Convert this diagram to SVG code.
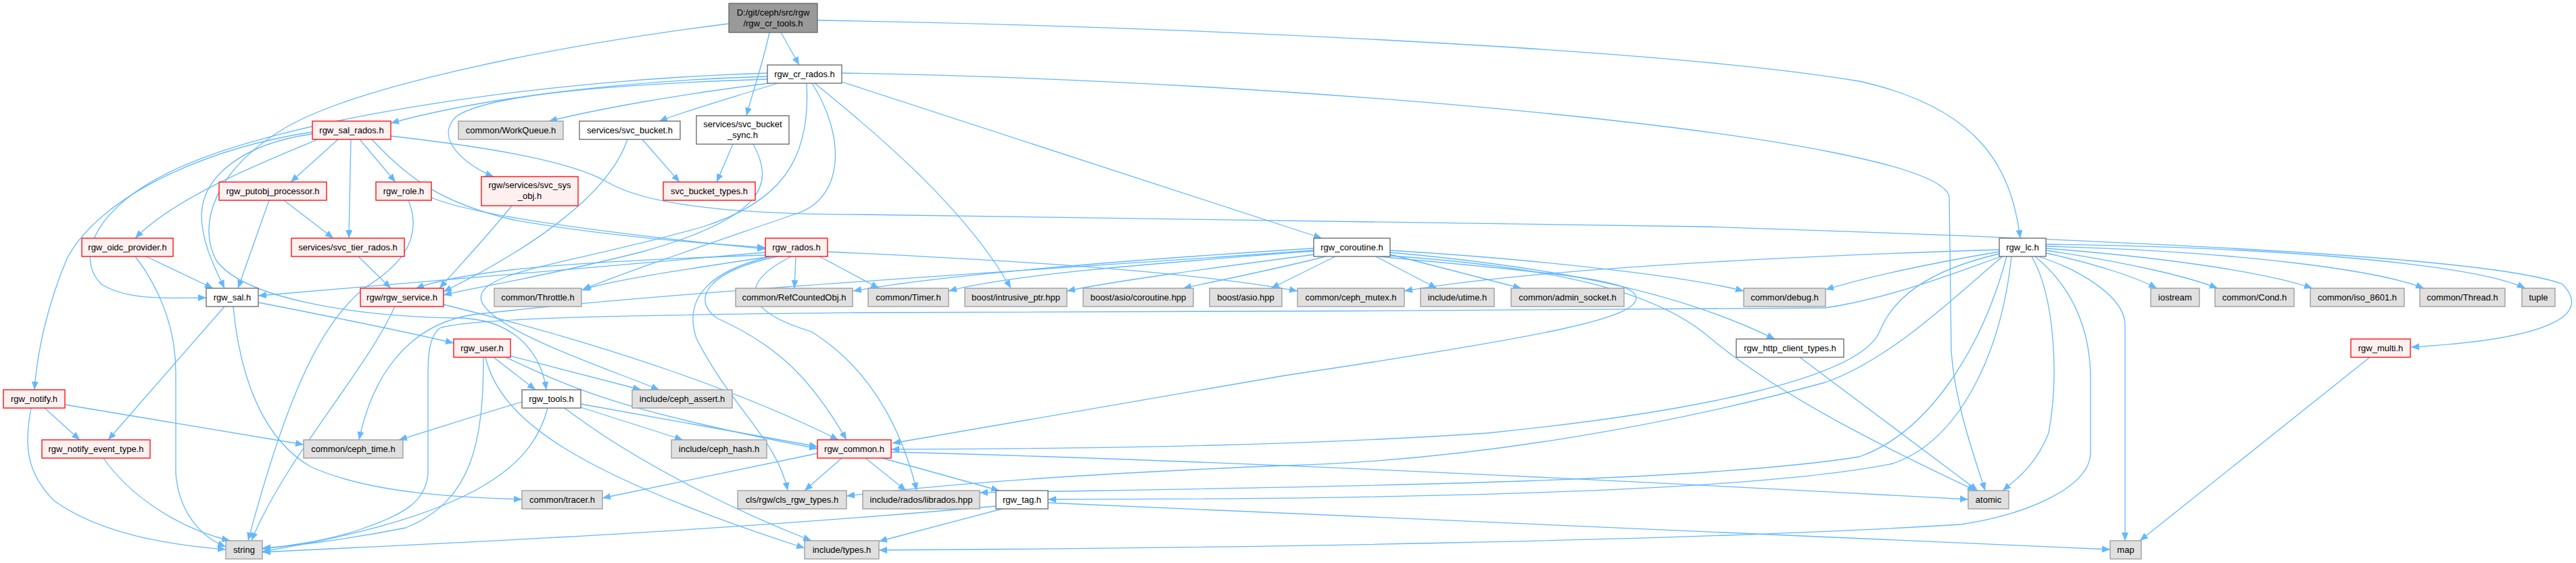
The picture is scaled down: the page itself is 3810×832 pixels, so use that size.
<svg xmlns="http://www.w3.org/2000/svg" width="3810" height="832" viewBox="0 0 3810 832">
<style>
.e{fill:none;stroke:#63B8FF;stroke-width:1.3}
.node rect{stroke-width:1.3}
.main rect{fill:#999999;stroke:#666666}
.white rect{fill:#FFFFFF;stroke:#666666}
.red rect{fill:#FFF0F0;stroke:#FF0000}
.gray rect{fill:#E0E0E0;stroke:#999999}
text{font-family:"Liberation Sans",Arial,sans-serif;font-size:13px;fill:#000;text-anchor:middle}
</style>
<defs>
<marker id="a" markerUnits="userSpaceOnUse" markerWidth="13" markerHeight="11" refX="12" refY="5" orient="auto">
<path d="M0,0 L12,5 L0,10 z" fill="#63B8FF"/>
</marker>
</defs>
<rect width="3810" height="832" fill="#FFFFFF"/>
<g id="edges" marker-end="url(#a)">
<path class="e" marker-end="url(#a)" d="M1155,48 L1182,96"/>
<path class="e" marker-end="url(#a)" d="M1138,48 C1128,95 1112,140 1104,171"/>
<path class="e" marker-end="url(#a)" d="M1209,30 C1700,38 2450,70 2750,120 C2930,160 2975,250 2988,352"/>
<path class="e" marker-end="url(#a)" d="M1078,35 C800,70 520,130 420,190 C320,250 290,330 320,385 C360,440 520,468 680,470 C760,472 800,520 808,576"/>
<path class="e" marker-end="url(#a)" d="M1135,113 C900,120 700,148 578,182"/>
<path class="e" marker-end="url(#a)" d="M1138,123 C1000,140 880,162 812,179"/>
<path class="e" marker-end="url(#a)" d="M1150,123 C1080,145 1010,165 975,179"/>
<path class="e" marker-end="url(#a)" d="M1135,117 C900,125 720,140 675,172 C640,205 690,245 730,261"/>
<path class="e" marker-end="url(#a)" d="M1135,108 C800,118 420,175 260,250 C140,305 110,380 150,420 C190,445 250,440 305,440"/>
<path class="e" marker-end="url(#a)" d="M1245,121 L1955,352"/>
<path class="e" marker-end="url(#a)" d="M1205,123 C1300,200 1430,310 1495,426"/>
<path class="e" marker-end="url(#a)" d="M1245,108 C1900,118 2860,200 2883,290 L2886,520 C2892,600 2922,680 2936,725"/>
<path class="e" marker-end="url(#a)" d="M1193,123 C1200,240 1150,300 1040,335 C850,390 700,400 712,445 C730,490 900,545 975,576"/>
<path class="e" marker-end="url(#a)" d="M1201,123 C1250,200 1250,290 1180,315 C1050,360 930,400 862,428"/>
<path class="e" marker-end="url(#a)" d="M500,206 L430,269"/>
<path class="e" marker-end="url(#a)" d="M519,206 L516,352"/>
<path class="e" marker-end="url(#a)" d="M532,206 L585,269"/>
<path class="e" marker-end="url(#a)" d="M470,206 C400,235 260,290 200,352"/>
<path class="e" marker-end="url(#a)" d="M578,201 C700,215 840,235 900,270 C960,305 1100,317 1270,317 L2520,335 C3300,360 3700,385 3790,420 C3830,460 3790,500 3566,513"/>
<path class="e" marker-end="url(#a)" d="M550,206 C600,260 650,300 760,325 C900,350 1050,360 1132,366"/>
<path class="e" marker-end="url(#a)" d="M462,195 C300,220 150,290 100,380 C70,450 55,520 51,576"/>
<path class="e" marker-end="url(#a)" d="M462,198 C360,212 300,260 298,317 C298,360 320,400 332,426"/>
<path class="e" marker-end="url(#a)" d="M398,296 L352,426"/>
<path class="e" marker-end="url(#a)" d="M420,296 L493,352"/>
<path class="e" marker-end="url(#a)" d="M638,292 C700,318 900,345 1132,368"/>
<path class="e" marker-end="url(#a)" d="M604,296 C630,360 580,400 540,425 C470,480 420,600 367,799"/>
<path class="e" marker-end="url(#a)" d="M757,304 C720,350 680,392 650,426"/>
<path class="e" marker-end="url(#a)" d="M950,206 L1005,269"/>
<path class="e" marker-end="url(#a)" d="M928,206 C900,290 780,370 656,431"/>
<path class="e" marker-end="url(#a)" d="M1084,213 L1060,269"/>
<path class="e" marker-end="url(#a)" d="M1114,213 C1145,270 1135,320 950,372 C800,410 700,425 656,436"/>
<path class="e" marker-end="url(#a)" d="M216,379 L315,426"/>
<path class="e" marker-end="url(#a)" d="M200,379 C232,420 260,480 260,550 L260,700 C265,760 300,795 334,808"/>
<path class="e" marker-end="url(#a)" d="M530,379 L578,426"/>
<path class="e" marker-end="url(#a)" d="M1132,373 C900,392 600,420 382,437"/>
<path class="e" marker-end="url(#a)" d="M1132,377 C900,385 700,395 615,426"/>
<path class="e" marker-end="url(#a)" d="M1140,379 C1000,400 900,415 860,429"/>
<path class="e" marker-end="url(#a)" d="M1177,379 L1175,426"/>
<path class="e" marker-end="url(#a)" d="M1212,379 L1300,426"/>
<path class="e" marker-end="url(#a)" d="M1224,372 C1500,385 1750,400 1919,430"/>
<path class="e" marker-end="url(#a)" d="M1140,379 C1050,400 1010,440 1030,500 C1080,600 1150,650 1165,725"/>
<path class="e" marker-end="url(#a)" d="M1150,379 C1050,400 1020,440 1060,470 C1150,510 1200,560 1252,650"/>
<path class="e" marker-end="url(#a)" d="M1170,379 C1090,420 1100,460 1200,490 C1280,540 1330,620 1356,725"/>
<path class="e" marker-end="url(#a)" d="M1943,370 C1600,395 1000,430 700,465 C600,480 550,560 531,650"/>
<path class="e" marker-end="url(#a)" d="M1943,367 C1700,382 1400,405 1262,430"/>
<path class="e" marker-end="url(#a)" d="M1943,371 C1700,390 1500,405 1403,430"/>
<path class="e" marker-end="url(#a)" d="M1945,376 C1800,395 1650,415 1578,430"/>
<path class="e" marker-end="url(#a)" d="M1960,379 C1900,395 1800,415 1750,426"/>
<path class="e" marker-end="url(#a)" d="M1975,379 L1880,426"/>
<path class="e" marker-end="url(#a)" d="M2035,379 L2125,426"/>
<path class="e" marker-end="url(#a)" d="M2056,376 L2250,426"/>
<path class="e" marker-end="url(#a)" d="M2056,370 C2300,385 2500,410 2579,430"/>
<path class="e" marker-end="url(#a)" d="M2056,373 C2300,395 2480,430 2625,501"/>
<path class="e" marker-end="url(#a)" d="M2056,378 C2300,395 2450,430 2530,500 C2650,600 2850,690 2922,725"/>
<path class="e" marker-end="url(#a)" d="M2040,379 C2250,400 2420,410 2420,440 C2420,470 2300,495 1900,555 C1700,590 1500,625 1320,655"/>
<path class="e" marker-end="url(#a)" d="M2957,372 C2850,390 2760,410 2700,428"/>
<path class="e" marker-end="url(#a)" d="M2957,369 C2600,380 2250,400 2077,430"/>
<path class="e" marker-end="url(#a)" d="M3026,374 C3100,390 3160,410 3190,426"/>
<path class="e" marker-end="url(#a)" d="M3026,370 C3150,388 3240,410 3280,426"/>
<path class="e" marker-end="url(#a)" d="M3026,367 C3220,382 3360,405 3420,426"/>
<path class="e" marker-end="url(#a)" d="M3026,364 C3320,372 3520,400 3585,426"/>
<path class="e" marker-end="url(#a)" d="M3026,361 C3420,366 3670,395 3735,426"/>
<path class="e" marker-end="url(#a)" d="M3015,379 C3080,400 3143,440 3143,480 L3143,799"/>
<path class="e" marker-end="url(#a)" d="M3005,379 C3040,440 3045,560 3030,640 C3010,690 2980,710 2962,725"/>
<path class="e" marker-end="url(#a)" d="M3010,379 C3060,420 3092,480 3092,560 L3092,670 C3090,720 3000,760 2900,775 C2500,800 1800,810 1300,813"/>
<path class="e" marker-end="url(#a)" d="M2957,375 C2850,400 2800,440 2780,490 C2750,560 2500,610 2200,640 C1900,660 1600,663 1318,664"/>
<path class="e" marker-end="url(#a)" d="M2962,379 C2900,430 2800,530 2700,565 C2500,620 2200,680 1900,688 C1600,700 1400,715 1252,733"/>
<path class="e" marker-end="url(#a)" d="M2975,379 C2960,520 2900,650 2800,685 C2600,725 2100,738 1550,738"/>
<path class="e" marker-end="url(#a)" d="M2968,379 C2930,520 2850,640 2750,675 C2500,715 1900,720 1449,728"/>
<path class="e" marker-end="url(#a)" d="M2960,379 C2900,400 2800,440 2700,455 C2400,460 1500,460 1270,462 C1000,465 700,468 650,485 C633,500 633,530 633,560 L633,700 C630,740 600,760 531,783 C480,800 420,808 388,811"/>
<path class="e" marker-end="url(#a)" d="M382,447 C500,470 600,490 671,507"/>
<path class="e" marker-end="url(#a)" d="M332,453 L160,650"/>
<path class="e" marker-end="url(#a)" d="M345,453 C355,560 390,650 460,690 C550,730 680,735 772,738"/>
<path class="e" marker-end="url(#a)" d="M656,450 C900,510 1100,580 1240,650"/>
<path class="e" marker-end="url(#a)" d="M584,453 C540,550 420,680 372,799"/>
<path class="e" marker-end="url(#a)" d="M730,528 L792,576"/>
<path class="e" marker-end="url(#a)" d="M755,526 L948,576"/>
<path class="e" marker-end="url(#a)" d="M748,528 C850,575 910,605 1209,663"/>
<path class="e" marker-end="url(#a)" d="M715,528 C715,650 700,740 600,780 C500,800 420,808 388,810"/>
<path class="e" marker-end="url(#a)" d="M718,528 C740,620 850,700 1190,810"/>
<path class="e" marker-end="url(#a)" d="M2662,528 L2925,725"/>
<path class="e" marker-end="url(#a)" d="M3505,528 L3165,799"/>
<path class="e" marker-end="url(#a)" d="M66,603 L118,650"/>
<path class="e" marker-end="url(#a)" d="M96,598 L449,657"/>
<path class="e" marker-end="url(#a)" d="M46,603 C35,660 40,700 80,740 C150,790 250,805 334,812"/>
<path class="e" marker-end="url(#a)" d="M772,594 C700,615 640,635 590,650"/>
<path class="e" marker-end="url(#a)" d="M859,602 L1010,650"/>
<path class="e" marker-end="url(#a)" d="M859,597 L1209,660"/>
<path class="e" marker-end="url(#a)" d="M835,603 C950,690 1100,760 1200,799"/>
<path class="e" marker-end="url(#a)" d="M810,603 C790,680 720,760 388,815"/>
<path class="e" marker-end="url(#a)" d="M153,677 C190,730 260,780 340,799"/>
<path class="e" marker-end="url(#a)" d="M1209,670 L891,736"/>
<path class="e" marker-end="url(#a)" d="M1245,677 L1190,725"/>
<path class="e" marker-end="url(#a)" d="M1280,677 L1340,725"/>
<path class="e" marker-end="url(#a)" d="M1305,677 L1478,725"/>
<path class="e" marker-end="url(#a)" d="M1318,668 C1800,680 2400,710 2911,738"/>
<path class="e" marker-end="url(#a)" d="M1473,748 C1000,790 600,805 388,816"/>
<path class="e" marker-end="url(#a)" d="M1482,752 L1300,800"/>
<path class="e" marker-end="url(#a)" d="M1550,743 C2200,770 2800,800 3121,812"/>
</g>
<g id="n0" class="node main"><rect x="1078" y="5" width="131" height="43"/><text x="1143.5" y="22.5">D:/git/ceph/src/rgw</text><text x="1143.5" y="38.5">/rgw_cr_tools.h</text></g>
<g id="n1" class="node white"><rect x="1135" y="96" width="110" height="27"/><text x="1190" y="114">rgw_cr_rados.h</text></g>
<g id="n2" class="node red"><rect x="462" y="179" width="116" height="27"/><text x="520" y="197">rgw_sal_rados.h</text></g>
<g id="n3" class="node gray"><rect x="678" y="179" width="155" height="27"/><text x="755.5" y="197">common/WorkQueue.h</text></g>
<g id="n4" class="node white"><rect x="857" y="179" width="149" height="27"/><text x="931.5" y="197">services/svc_bucket.h</text></g>
<g id="n5" class="node white"><rect x="1030" y="171" width="137" height="42"/><text x="1098.5" y="188">services/svc_bucket</text><text x="1098.5" y="204">_sync.h</text></g>
<g id="n6" class="node red"><rect x="324" y="269" width="159" height="27"/><text x="403.5" y="287">rgw_putobj_processor.h</text></g>
<g id="n7" class="node red"><rect x="556" y="269" width="82" height="27"/><text x="597" y="287">rgw_role.h</text></g>
<g id="n8" class="node red"><rect x="712" y="261" width="143" height="43"/><text x="783.5" y="278">rgw/services/svc_sys</text><text x="783.5" y="294">_obj.h</text></g>
<g id="n9" class="node red"><rect x="981" y="269" width="136" height="27"/><text x="1049" y="287">svc_bucket_types.h</text></g>
<g id="n10" class="node red"><rect x="121" y="352" width="135" height="27"/><text x="188.5" y="370">rgw_oidc_provider.h</text></g>
<g id="n11" class="node red"><rect x="431" y="352" width="167" height="27"/><text x="514.5" y="370">services/svc_tier_rados.h</text></g>
<g id="n12" class="node red"><rect x="1132" y="352" width="92" height="27"/><text x="1178" y="370">rgw_rados.h</text></g>
<g id="n13" class="node white"><rect x="1943" y="352" width="113" height="27"/><text x="1999.5" y="370">rgw_coroutine.h</text></g>
<g id="n14" class="node white"><rect x="2957" y="352" width="69" height="27"/><text x="2991.5" y="370">rgw_lc.h</text></g>
<g id="n15" class="node white"><rect x="305" y="426" width="77" height="27"/><text x="343.5" y="444">rgw_sal.h</text></g>
<g id="n16" class="node red"><rect x="533" y="426" width="123" height="27"/><text x="594.5" y="444">rgw/rgw_service.h</text></g>
<g id="n17" class="node gray"><rect x="731" y="426" width="129" height="27"/><text x="795.5" y="444">common/Throttle.h</text></g>
<g id="n18" class="node gray"><rect x="1088" y="426" width="173" height="27"/><text x="1174.5" y="444">common/RefCountedObj.h</text></g>
<g id="n19" class="node gray"><rect x="1284" y="426" width="119" height="27"/><text x="1343.5" y="444">common/Timer.h</text></g>
<g id="n20" class="node gray"><rect x="1427" y="426" width="151" height="27"/><text x="1502.5" y="444">boost/intrusive_ptr.hpp</text></g>
<g id="n21" class="node gray"><rect x="1602" y="426" width="163" height="27"/><text x="1683.5" y="444">boost/asio/coroutine.hpp</text></g>
<g id="n22" class="node gray"><rect x="1789" y="426" width="107" height="27"/><text x="1842.5" y="444">boost/asio.hpp</text></g>
<g id="n23" class="node gray"><rect x="1919" y="426" width="158" height="27"/><text x="1998" y="444">common/ceph_mutex.h</text></g>
<g id="n24" class="node gray"><rect x="2101" y="426" width="109" height="27"/><text x="2155.5" y="444">include/utime.h</text></g>
<g id="n25" class="node gray"><rect x="2235" y="426" width="167" height="27"/><text x="2318.5" y="444">common/admin_socket.h</text></g>
<g id="n26" class="node gray"><rect x="2579" y="426" width="121" height="27"/><text x="2639.5" y="444">common/debug.h</text></g>
<g id="n27" class="node gray"><rect x="3181" y="426" width="72" height="27"/><text x="3217" y="444">iostream</text></g>
<g id="n28" class="node gray"><rect x="3276" y="426" width="117" height="27"/><text x="3334.5" y="444">common/Cond.h</text></g>
<g id="n29" class="node gray"><rect x="3417" y="426" width="139" height="27"/><text x="3486.5" y="444">common/iso_8601.h</text></g>
<g id="n30" class="node gray"><rect x="3579" y="426" width="126" height="27"/><text x="3642" y="444">common/Thread.h</text></g>
<g id="n31" class="node gray"><rect x="3730" y="426" width="49" height="27"/><text x="3754.5" y="444">tuple</text></g>
<g id="n32" class="node red"><rect x="671" y="501" width="84" height="27"/><text x="713" y="519">rgw_user.h</text></g>
<g id="n33" class="node white"><rect x="2568" y="501" width="159" height="27"/><text x="2647.5" y="519">rgw_http_client_types.h</text></g>
<g id="n34" class="node red"><rect x="3477" y="501" width="88" height="27"/><text x="3521" y="519">rgw_multi.h</text></g>
<g id="n35" class="node red"><rect x="5" y="576" width="91" height="27"/><text x="50.5" y="594">rgw_notify.h</text></g>
<g id="n36" class="node white"><rect x="772" y="576" width="87" height="27"/><text x="815.5" y="594">rgw_tools.h</text></g>
<g id="n37" class="node gray"><rect x="935" y="576" width="148" height="27"/><text x="1009" y="594">include/ceph_assert.h</text></g>
<g id="n38" class="node red"><rect x="62" y="650" width="160" height="27"/><text x="142" y="668">rgw_notify_event_type.h</text></g>
<g id="n39" class="node gray"><rect x="449" y="650" width="147" height="27"/><text x="522.5" y="668">common/ceph_time.h</text></g>
<g id="n40" class="node gray"><rect x="993" y="650" width="141" height="27"/><text x="1063.5" y="668">include/ceph_hash.h</text></g>
<g id="n41" class="node red"><rect x="1209" y="650" width="109" height="27"/><text x="1263.5" y="668">rgw_common.h</text></g>
<g id="n42" class="node gray"><rect x="772" y="725" width="119" height="27"/><text x="831.5" y="743">common/tracer.h</text></g>
<g id="n43" class="node gray"><rect x="1091" y="725" width="161" height="27"/><text x="1171.5" y="743">cls/rgw/cls_rgw_types.h</text></g>
<g id="n44" class="node gray"><rect x="1276" y="725" width="173" height="27"/><text x="1362.5" y="743">include/rados/librados.hpp</text></g>
<g id="n45" class="node white"><rect x="1473" y="725" width="77" height="27"/><text x="1511.5" y="743">rgw_tag.h</text></g>
<g id="n46" class="node gray"><rect x="2911" y="725" width="60" height="27"/><text x="2941" y="743">atomic</text></g>
<g id="n47" class="node gray"><rect x="334" y="799" width="54" height="27"/><text x="361" y="817">string</text></g>
<g id="n48" class="node gray"><rect x="1190" y="799" width="110" height="27"/><text x="1245" y="817">include/types.h</text></g>
<g id="n49" class="node gray"><rect x="3121" y="799" width="46" height="27"/><text x="3144" y="817">map</text></g>
</svg>
